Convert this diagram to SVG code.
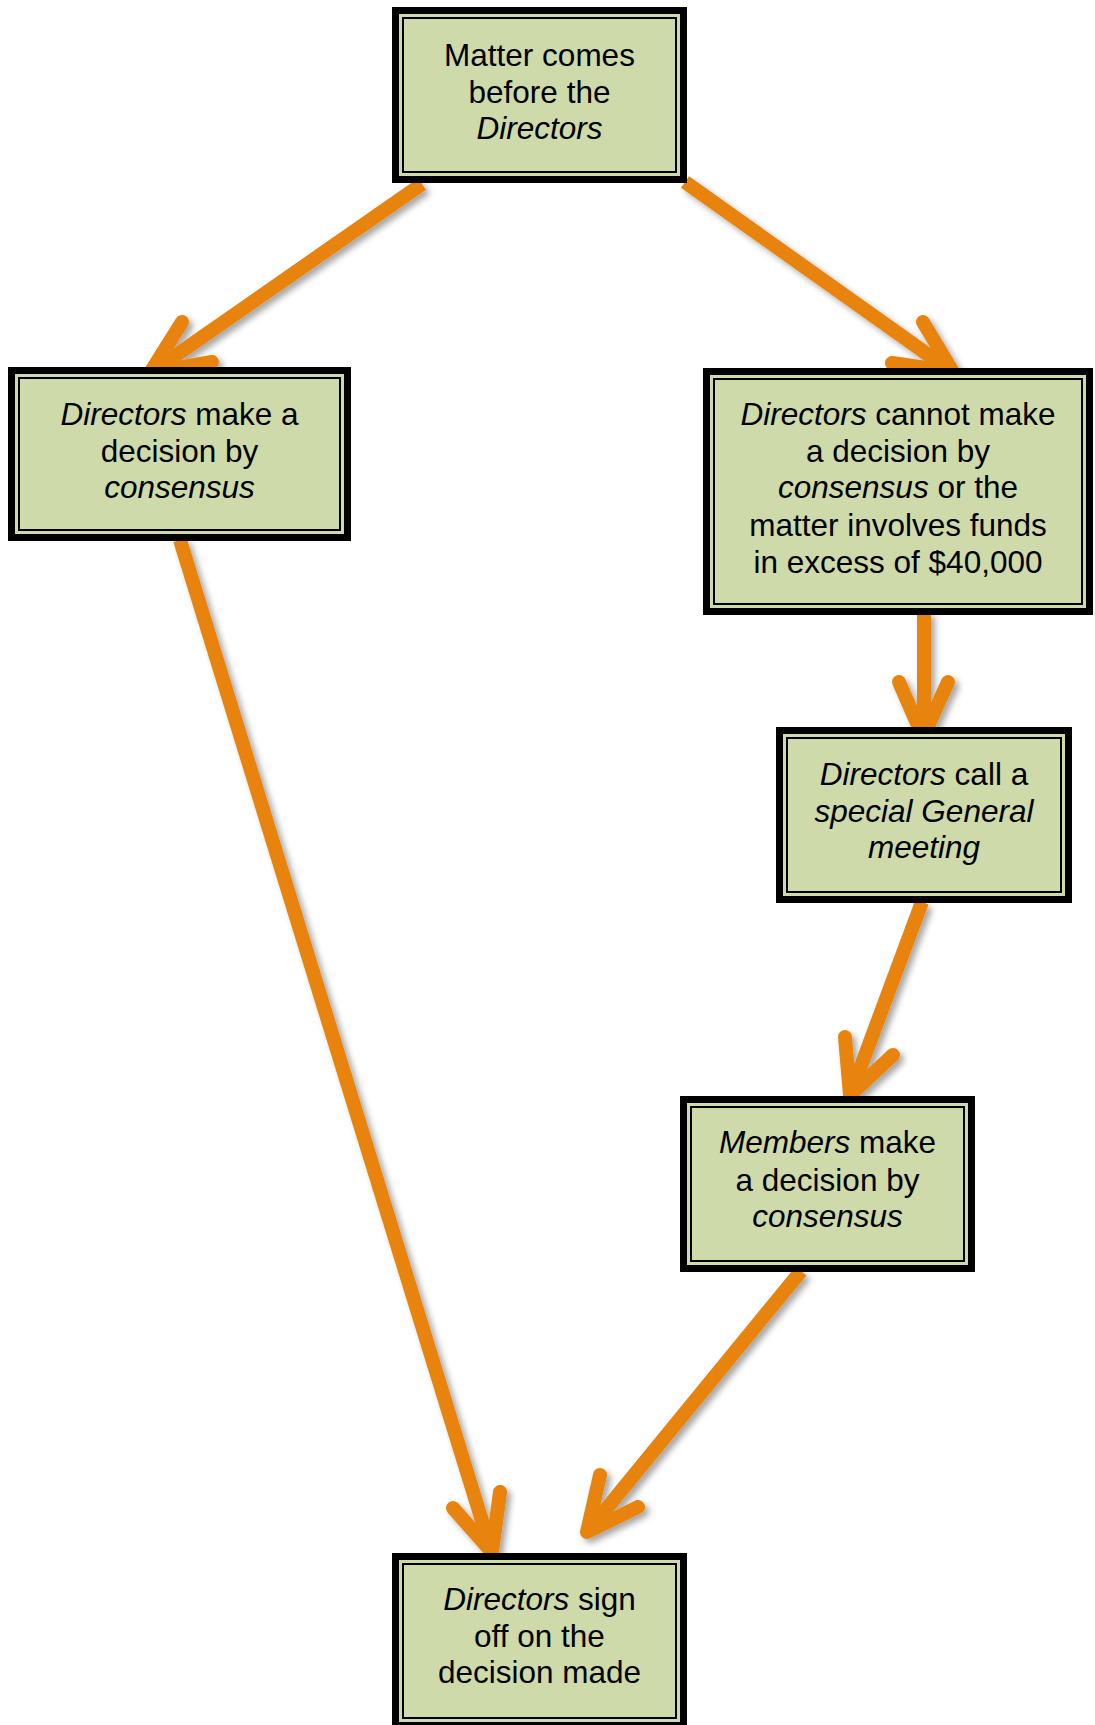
<svg xmlns="http://www.w3.org/2000/svg" width="1095" height="1725" viewBox="0 0 1095 1725">
<style>
.frame{fill:#cedaa9;stroke:#000;stroke-width:7}
.inner{fill:none;stroke:#000;stroke-width:2}
.t{font-family:"Liberation Sans",Arial,sans-serif;font-size:31.5px;fill:#000;text-anchor:middle}
.i{font-style:italic}
.shaft{fill:none;stroke:#e8830a;stroke-width:14;stroke-linecap:butt}
.head{fill:none;stroke:#e8830a;stroke-width:14;stroke-linecap:round;stroke-linejoin:round}
</style>
<defs>
<filter id="sh" x="-20%" y="-20%" width="140%" height="140%">
<feDropShadow dx="4" dy="4" stdDeviation="3" flood-color="#000" flood-opacity="0.35"/>
</filter>
</defs>
<rect width="1095" height="1725" fill="#fff"/>
<g id="connectors" filter="url(#sh)">
<g id="e1"><path class="shaft" d="M422,184 L152,372"/><path class="head" d="M182,322 L150,373 L212,362"/></g>
<g id="e2"><path class="shaft" d="M685,182 L951,371"/><path class="head" d="M923,322 L953,372 L892,363"/></g>
<g id="e3"><path class="shaft" d="M924,612 L924,735"/><path class="head" d="M899,682 L923,737 L948,682"/></g>
<g id="e4"><path class="shaft" d="M922,902 L851,1093"/><path class="head" d="M845,1037 L850,1095 L893,1055"/></g>
<g id="e5"><path class="shaft" d="M180,540 L491,1550"/><path class="head" d="M453,1508 L492,1552 L500,1492"/></g>
<g id="e6"><path class="shaft" d="M801,1271 L589,1530"/><path class="head" d="M600,1475 L587,1532 L638,1507"/></g>
</g>
<g id="n1">
<rect class="frame" x="395.5" y="10.5" width="288" height="169"/>
<rect class="inner" x="403" y="18" width="273" height="154"/>
<text class="t" x="539.5" y="66">Matter comes</text>
<text class="t" x="539.5" y="103">before the</text>
<text class="t" x="539.5" y="139"><tspan class="i">Directors</tspan></text>
</g>
<g id="n2">
<rect class="frame" x="11.5" y="370.5" width="336" height="167"/>
<rect class="inner" x="19" y="378" width="321" height="152"/>
<text class="t" x="179.5" y="425"><tspan class="i">Directors</tspan> make a</text>
<text class="t" x="179.5" y="462">decision by</text>
<text class="t" x="179.5" y="498"><tspan class="i">consensus</tspan></text>
</g>
<g id="n3">
<rect class="frame" x="706.5" y="371.5" width="383" height="240"/>
<rect class="inner" x="714" y="379" width="368" height="225"/>
<text class="t" x="898" y="425"><tspan class="i">Directors</tspan> cannot make</text>
<text class="t" x="898" y="462">a decision by</text>
<text class="t" x="898" y="498"><tspan class="i">consensus</tspan> or the</text>
<text class="t" x="898" y="536">matter involves funds</text>
<text class="t" x="898" y="573">in excess of $40,000</text>
</g>
<g id="n4">
<rect class="frame" x="779.5" y="730.5" width="289" height="169"/>
<rect class="inner" x="787" y="738" width="274" height="154"/>
<text class="t" x="924" y="785"><tspan class="i">Directors</tspan> call a</text>
<text class="t i" x="924" y="822">special General</text>
<text class="t i" x="924" y="858">meeting</text>
</g>
<g id="n5">
<rect class="frame" x="683.5" y="1099.5" width="288" height="169"/>
<rect class="inner" x="691" y="1107" width="273" height="154"/>
<text class="t" x="827.5" y="1153"><tspan class="i">Members</tspan> make</text>
<text class="t" x="827.5" y="1191">a decision by</text>
<text class="t i" x="827.5" y="1227">consensus</text>
</g>
<g id="n6">
<rect class="frame" x="395.5" y="1556.5" width="288" height="169"/>
<rect class="inner" x="403" y="1564" width="273" height="154"/>
<text class="t" x="539.5" y="1610"><tspan class="i">Directors</tspan> sign</text>
<text class="t" x="539.5" y="1647">off on the</text>
<text class="t" x="539.5" y="1683">decision made</text>
</g>
</svg>
